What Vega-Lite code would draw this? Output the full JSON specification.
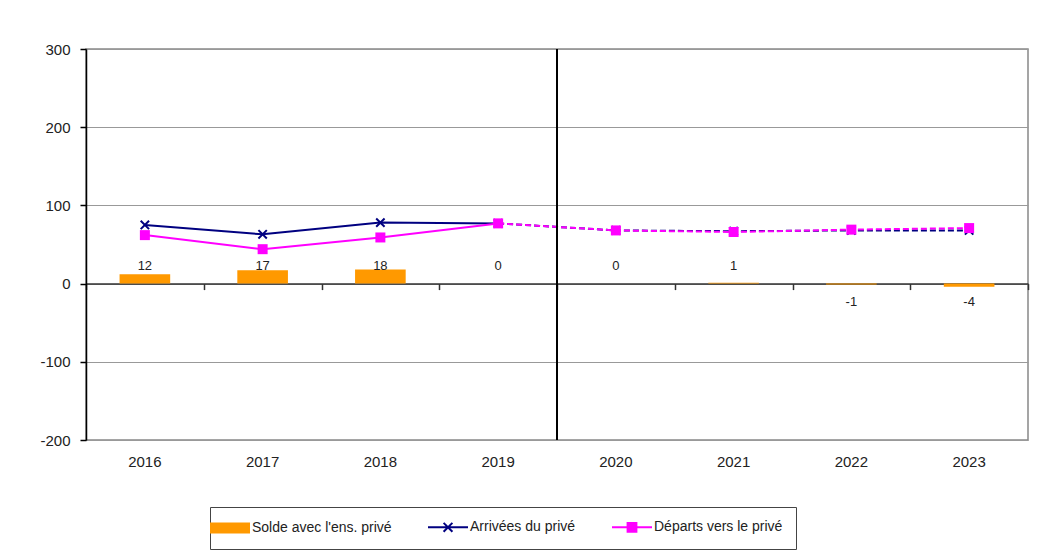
{
  "$schema": "https://vega.github.io/schema/vega-lite/v6.json",
  "width": 942,
  "height": 391,
  "autosize": {"type": "none"},
  "padding": {"left": 86, "top": 49, "right": 13, "bottom": 117},
  "background": "white",
  "config": {
    "font": "Liberation Sans",
    "view": {"stroke": "#888", "strokeWidth": 1.5},
    "axis": {"labelFont": "Liberation Sans", "labelColor": "#222", "labelFontSize": 15, "title": null}
  },
  "data": {
    "values": [
      {"annee": 2016, "serie": "Solde avec l'ens. privé", "valeur": 12},
      {"annee": 2017, "serie": "Solde avec l'ens. privé", "valeur": 17},
      {"annee": 2018, "serie": "Solde avec l'ens. privé", "valeur": 18},
      {"annee": 2019, "serie": "Solde avec l'ens. privé", "valeur": 0},
      {"annee": 2020, "serie": "Solde avec l'ens. privé", "valeur": 0},
      {"annee": 2021, "serie": "Solde avec l'ens. privé", "valeur": 1},
      {"annee": 2022, "serie": "Solde avec l'ens. privé", "valeur": -1},
      {"annee": 2023, "serie": "Solde avec l'ens. privé", "valeur": -4},
      {"annee": 2016, "serie": "Arrivées du privé", "valeur": 75},
      {"annee": 2017, "serie": "Arrivées du privé", "valeur": 63},
      {"annee": 2018, "serie": "Arrivées du privé", "valeur": 78},
      {"annee": 2019, "serie": "Arrivées du privé", "valeur": 77},
      {"annee": 2020, "serie": "Arrivées du privé", "valeur": 68},
      {"annee": 2021, "serie": "Arrivées du privé", "valeur": 67},
      {"annee": 2022, "serie": "Arrivées du privé", "valeur": 68},
      {"annee": 2023, "serie": "Arrivées du privé", "valeur": 68},
      {"annee": 2016, "serie": "Départs vers le privé", "valeur": 62},
      {"annee": 2017, "serie": "Départs vers le privé", "valeur": 44},
      {"annee": 2018, "serie": "Départs vers le privé", "valeur": 59},
      {"annee": 2019, "serie": "Départs vers le privé", "valeur": 77},
      {"annee": 2020, "serie": "Départs vers le privé", "valeur": 68},
      {"annee": 2021, "serie": "Départs vers le privé", "valeur": 66},
      {"annee": 2022, "serie": "Départs vers le privé", "valeur": 69},
      {"annee": 2023, "serie": "Départs vers le privé", "valeur": 71}
    ]
  },
  "resolve": {"axis": {"x": "independent"}},
  "layer": [
    {
      "transform": [{"filter": "datum.serie === \"Solde avec l'ens. privé\""}],
      "mark": {"type": "bar", "width": {"band": 0.43}},
      "encoding": {
        "x": {
          "field": "annee", "type": "ordinal",
          "scale": {"paddingInner": 0, "paddingOuter": 0},
          "axis": {
            "orient": "top", "offset": {"expr": "-scale('y', 0)"},
            "labels": false, "ticks": true, "tickBand": "extent", "tickSize": -6,
            "tickColor": "#333", "tickWidth": 1.5,
            "domain": true, "domainColor": "#333", "domainWidth": 1.5,
            "grid": false, "title": null
          }
        },
        "y": {
          "field": "valeur", "type": "quantitative",
          "scale": {"domain": [-200, 300], "nice": false, "zero": false},
          "axis": {
            "values": [-200, -100, 0, 100, 200, 300],
            "labelExpr": "'' + datum.value",
            "grid": true, "gridColor": "#999", "gridWidth": 1,
            "tickSize": 6, "tickColor": "#000", "tickWidth": 1.5,
            "domainColor": "#000", "domainWidth": 1.5,
            "labelPadding": 10, "title": null
          }
        },
        "color": {
          "field": "serie", "type": "nominal",
          "scale": {
            "domain": ["Solde avec l'ens. privé", "Arrivées du privé", "Départs vers le privé"],
            "range": ["#FF9900", "#000080", "#FF00FF"]
          },
          "legend": {
            "orient": "none", "legendX": 124, "legendY": 458,
            "direction": "horizontal", "title": null,
            "strokeColor": "#444", "padding": 13,
            "symbolSize": 1600, "labelFontSize": 14, "labelColor": "#222",
            "labelFont": "Liberation Sans", "labelOffset": 15, "columnPadding": 32,
            "labelLimit": 300,
            "encode": {
              "symbols": {
                "update": {
                  "shape": {"signal": "datum.index === 0 ? 'M-1,-0.28H1V0.28H-1Z' : datum.index === 1 ? 'M-1,0H1M-0.22,-0.22L0.22,0.22M-0.22,0.22L0.22,-0.22' : 'M-1,0H1M-0.22,-0.22H0.22V0.22H-0.22Z'"},
                  "fill": {"signal": "datum.index === 0 ? '#FF9900' : datum.index === 1 ? 'transparent' : '#FF00FF'"},
                  "stroke": {"signal": "datum.index === 0 ? '#FF9900' : datum.index === 1 ? '#000080' : '#FF00FF'"},
                  "strokeWidth": {"signal": "datum.index === 0 ? 0 : 2"},
                  "fillOpacity": {"value": 1},
                  "opacity": {"value": 1}
                }
              }
            }
          }
        }
      }
    },
    {
      "transform": [
        {"filter": "datum.serie !== \"Solde avec l'ens. privé\""},
        {"filter": "datum.annee <= 2019"}
      ],
      "mark": {"type": "line", "strokeWidth": 2},
      "encoding": {
        "x": {"field": "annee", "type": "ordinal", "axis": null},
        "y": {"field": "valeur", "type": "quantitative"},
        "color": {"field": "serie", "type": "nominal"}
      }
    },
    {
      "transform": [
        {"filter": "datum.serie !== \"Solde avec l'ens. privé\""},
        {"filter": "datum.annee >= 2019"}
      ],
      "mark": {"type": "line", "strokeWidth": 2, "strokeDash": [6, 3]},
      "encoding": {
        "x": {"field": "annee", "type": "ordinal", "axis": null},
        "y": {"field": "valeur", "type": "quantitative"},
        "color": {"field": "serie", "type": "nominal"}
      }
    },
    {
      "transform": [{"filter": "datum.serie === 'Arrivées du privé'"}],
      "mark": {"type": "point", "shape": "M-1,-1L1,1M-1,1L1,-1", "filled": false, "size": 70, "strokeWidth": 2, "opacity": 1},
      "encoding": {
        "x": {"field": "annee", "type": "ordinal", "axis": null},
        "y": {"field": "valeur", "type": "quantitative"},
        "color": {"field": "serie", "type": "nominal"}
      }
    },
    {
      "transform": [{"filter": "datum.serie === 'Départs vers le privé'"}],
      "mark": {"type": "point", "shape": "square", "filled": true, "size": 100, "opacity": 1},
      "encoding": {
        "x": {"field": "annee", "type": "ordinal", "axis": null},
        "y": {"field": "valeur", "type": "quantitative"},
        "color": {"field": "serie", "type": "nominal"}
      }
    },
    {
      "transform": [
        {"filter": "datum.serie === \"Solde avec l'ens. privé\""},
        {"filter": "datum.valeur >= 0"}
      ],
      "mark": {"type": "text", "fontSize": 13, "color": "#222", "baseline": "middle", "align": "center"},
      "encoding": {
        "x": {
          "field": "annee", "type": "ordinal",
          "axis": {"orient": "bottom", "domain": false, "ticks": false, "labelPadding": 14, "labelAngle": 0, "grid": false, "title": null}
        },
        "y": {"datum": 23, "type": "quantitative"},
        "text": {"field": "valeur", "type": "nominal"}
      }
    },
    {
      "transform": [
        {"filter": "datum.serie === \"Solde avec l'ens. privé\""},
        {"filter": "datum.valeur < 0"}
      ],
      "mark": {"type": "text", "fontSize": 13, "color": "#222", "baseline": "middle", "align": "center"},
      "encoding": {
        "x": {"field": "annee", "type": "ordinal", "axis": null},
        "y": {"datum": -24, "type": "quantitative"},
        "text": {"field": "valeur", "type": "nominal"}
      }
    },
    {
      "mark": {"type": "rule", "color": "#000", "strokeWidth": 2},
      "encoding": {
        "x": {"datum": 2020, "type": "ordinal", "bandPosition": 0, "axis": null},
        "y": {"datum": 300, "type": "quantitative"},
        "y2": {"datum": -200}
      }
    }
  ]
}
